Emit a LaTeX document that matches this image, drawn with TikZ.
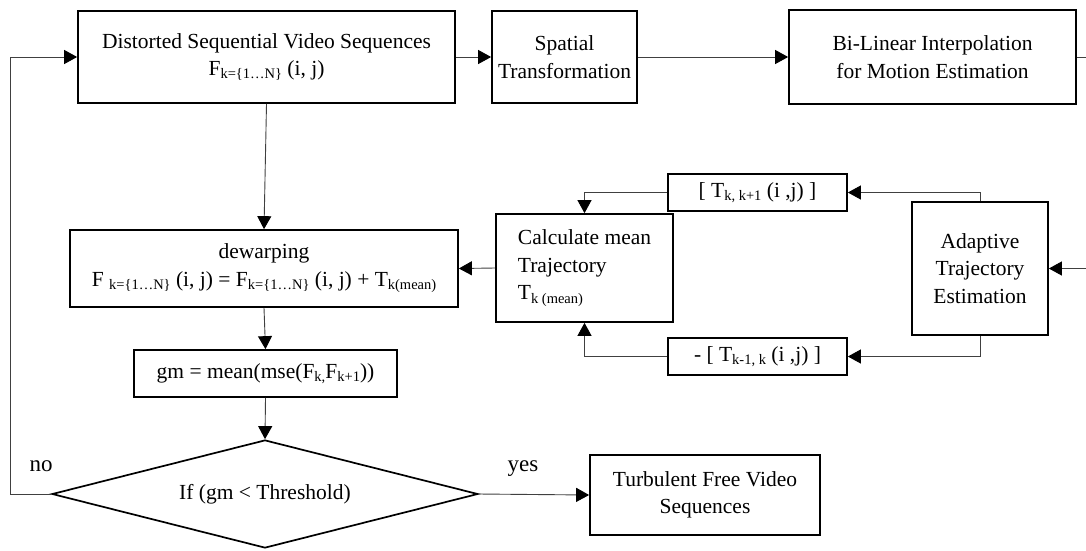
\documentclass[tikz,border=0pt]{standalone}
\usepackage{fontspec}
\setmainfont{Liberation Serif}
\usetikzlibrary{arrows.meta,shapes.geometric}
\newcommand{\lowr}[1]{\raisebox{-0.35ex}{\fontsize{14.5}{15}\selectfont #1}}
\begin{document}
\begin{tikzpicture}[x=1pt,y=-1pt,
  box/.style={draw, line width=1.7pt, inner sep=0pt, align=center, font=\fontsize{21.5}{27.5}\selectfont},
  conn/.style={draw=black!75, line width=0.9pt, -{Triangle[length=13pt,width=14pt,color=black]}},
  plain/.style={draw=black!75, line width=0.9pt},
  lbl/.style={font=\fontsize{23}{24}\selectfont, inner sep=0pt}]
\useasboundingbox (0,0) rectangle (1086,550);
\node[box, minimum width=377pt, minimum height=92pt] (dist) at (266.5,57) {Distorted Sequential Video Sequences\\F\lowr{k=\{1…N\}} (i, j)};
\node[box, minimum width=145pt, minimum height=92pt] (spat) at (564.5,57) {Spatial\\Transformation};
\node[box, minimum width=287pt, minimum height=94pt] (bil) at (932.5,57) {Bi-Linear Interpolation\\for Motion Estimation};
\node[box, minimum width=388pt, minimum height=77pt] (dew) at (264,268.5) {dewarping\\F \lowr{k=\{1…N\}} (i, j) = F\lowr{k=\{1…N\}} (i, j) + T\lowr{k(mean)}};
\node[box, minimum width=263pt, minimum height=47pt] (gm) at (265.5,373.5) {gm = mean(mse(F\lowr{k,}F\lowr{k+1}))};
\node[draw, line width=1.7pt, shape=diamond, aspect=3.94, minimum width=426pt, minimum height=108pt, inner sep=0pt, font=\fontsize{21.5}{27.5}\selectfont] (dia) at (265,494) {If (gm < Threshold)};
\node[box, minimum width=230pt, minimum height=80pt] (turb) at (705,495) {Turbulent Free Video\\Sequences};
\node[box, minimum width=177pt, minimum height=108pt, align=left] (calc) at (584.5,268) {Calculate mean\\Trajectory\\T\lowr{k (mean)}};
\node[box, minimum width=179pt, minimum height=37pt] (t1) at (757.5,192.5) {[ T\lowr{k, k+1} (i ,j) ]};
\node[box, minimum width=179pt, minimum height=37pt] (t2) at (757.5,356.5) {- [ T\lowr{k-1, k} (i ,j) ]};
\node[box, minimum width=136pt, minimum height=133pt] (adapt) at (980,268.5) {Adaptive\\Trajectory\\Estimation};
\coordinate (r1) at (1086,57);
\coordinate (r2) at (1086,268.5);
\coordinate (lft) at (10,57);
\node[lbl] (no) at (41,466) {no};
\node[lbl] (yes) at (523,469) {yes};
\draw[conn] (dist.east) -- (spat.west);
\draw[conn] (spat.east) -- (bil.west);
\draw[plain] (bil.east) -- (r1);
\draw[conn] (r2) -- (adapt.east);
\draw[conn] (dist.south) -- (dew.north);
\draw[conn] (dew.south) -- (gm.north);
\draw[conn] (gm.south) -- (dia.north);
\draw[conn] (dia.east) -- (turb.west);
\draw[conn] (dia.west) -- (lft |- dia.west) -- (lft) -- (dist.west);
\draw[conn] (calc.west) -- (dew.east);
\draw[conn] (adapt.north) |- (t1.east);
\draw[conn] (adapt.south) |- (t2.east);
\draw[conn] (t1.west) -| (calc.north);
\draw[conn] (t2.west) -| (calc.south);
\end{tikzpicture}
\end{document}
